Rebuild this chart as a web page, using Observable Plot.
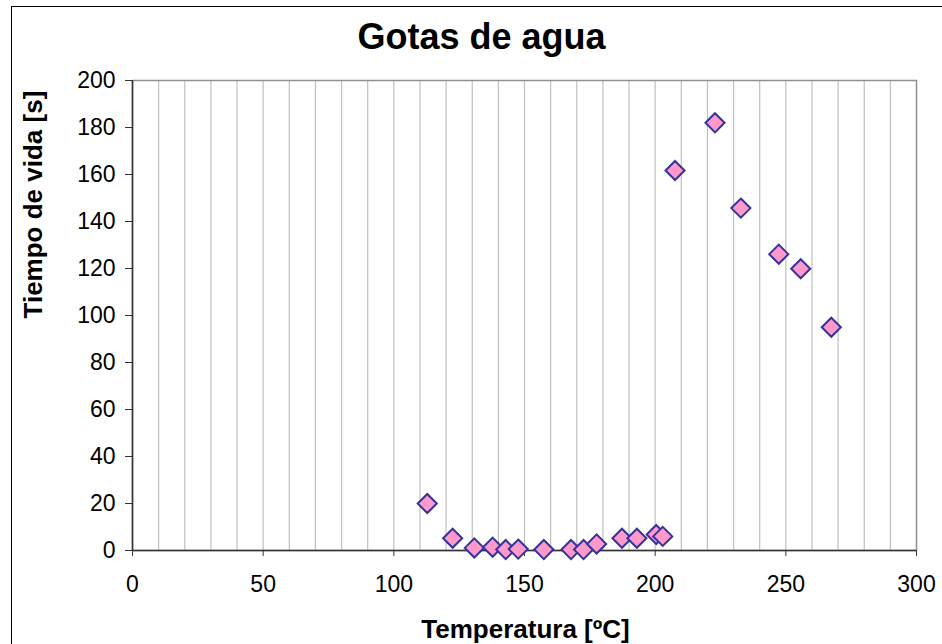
<!DOCTYPE html>
<html>
<head>
<meta charset="utf-8">
<script src="https://cdn.jsdelivr.net/npm/d3@7"></script>
<script src="https://cdn.jsdelivr.net/npm/@observablehq/plot@0.6"></script>
<style>
  html, body { margin: 0; padding: 0; background: #fff; }
  #wrap { position: relative; width: 942px; height: 644px; overflow: hidden; }
  #border { position: absolute; left: 11px; top: 6px; width: 960px; height: 700px; border: 1px solid #000; box-sizing: border-box; pointer-events: none; }
</style>
</head>
<body>
<div id="wrap"><div id="chart"></div><div id="border"></div></div>
<script>
const title = "Gotas de agua";
const xLabel = "Temperatura [ºC]";
const yLabel = "Tiempo de vida [s]";
const temperatura = [112.8, 122.5, 130.8, 137.8, 142.8, 147.6, 157.4, 167.8, 172.6, 177.6, 187.3, 193.0, 200.4, 202.9, 207.6, 222.9, 232.8, 247.3, 255.7, 267.4];
const tiempo      = [20.0, 5.2, 1.1, 1.4, 0.4, 0.6, 0.4, 0.4, 0.4, 2.8, 5.2, 5.2, 6.8, 6.0, 161.7, 182.0, 145.7, 126.1, 119.9, 95.0];
const xTicks = [0, 50, 100, 150, 200, 250, 300];
const yTicks = [0, 20, 40, 60, 80, 100, 120, 140, 160, 180, 200];
const xGrid = [10, 20, 30, 40, 50, 60, 70, 80, 90, 100, 110, 120, 130, 140, 150, 160, 170, 180, 190, 200, 210, 220, 230, 240, 250, 260, 270, 280, 290];

const data = temperatura.map((t, i) => ({t, v: tiempo[i]}));
const font = "'Liberation Sans', Arial, sans-serif";

const chart = Plot.plot({
  width: 942,
  height: 644,
  marginLeft: 132,
  marginRight: 26,
  marginTop: 80,
  marginBottom: 94,
  style: {fontFamily: font, fontSize: "23px", color: "#000", background: "#fff"},
  x: {domain: [0, 300]},
  y: {domain: [0, 200]},
  marks: [
    Plot.gridX(xGrid, {stroke: "#c0c0c0", strokeOpacity: 1, strokeWidth: 1.2}),
    Plot.frame({stroke: "#909090", strokeWidth: 1.5}),
    Plot.ruleX([0], {stroke: "#333", strokeWidth: 1.5}),
    Plot.ruleY([0], {stroke: "#333", strokeWidth: 1.5}),
    Plot.axisX(xTicks, {tickSize: 6, tickPadding: 19, label: null, stroke: "#333", fontSize: 23}),
    Plot.axisY(yTicks, {tickSize: 7, tickPadding: 10, label: null, stroke: "#333", fontSize: 23}),
    Plot.dot(data, {x: "t", y: "v", symbol: "diamond2", r: 8.6, fill: "#FF99CC", stroke: "#333399", strokeWidth: 2}),
    Plot.text([title], {frameAnchor: "top", dx: -43, dy: -43, lineAnchor: "middle", fontSize: 36, fontWeight: "bold", fill: "#000"}),
    Plot.text([xLabel], {frameAnchor: "bottom", dx: 1, dy: 79, lineAnchor: "middle", fontSize: 26, fontWeight: "bold", fill: "#000"}),
    Plot.text([yLabel], {frameAnchor: "left", dx: -99, dy: 3, rotate: -90, lineAnchor: "middle", fontSize: 26, fontWeight: "bold", fill: "#000"})
  ]
});
document.getElementById("chart").appendChild(chart);
</script>
</body>
</html>
